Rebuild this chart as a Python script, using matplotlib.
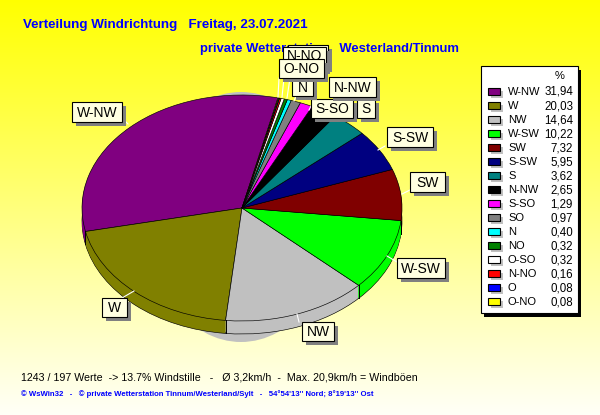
import numpy as np
import matplotlib
matplotlib.use("Agg")
import matplotlib.pyplot as plt
from matplotlib.patches import Rectangle, Ellipse

directions = ["W-NW","W","NW","W-SW","SW","S-SW","S","N-NW","S-SO","SO","N","NO","O-SO","N-NO","O","O-NO"]
percent = [31.94,20.03,14.64,10.22,7.32,5.95,3.62,2.65,1.29,0.97,0.40,0.32,0.32,0.16,0.08,0.08]
percent_text = ["31,94","20,03","14,64","10,22","7,32","5,95","3,62","2,65","1,29","0,97","0,40","0,32","0,32","0,16","0,08","0,08"]
colors = ["#800080","#808000","#C0C0C0","#00FF00","#800000","#000080","#008080","#000000","#FF00FF","#808080","#00FFFF","#008000","#FFFFFF","#FF0000","#0000FF","#FFFF00"]

title1 = "Verteilung Windrichtung   Freitag, 23.07.2021"
title2 = "private Wetterstation   Westerland/Tinnum"
stats = "1243 / 197 Werte  -> 13.7% Windstille   -   Ø 3,2km/h  -  Max. 20,9km/h = Windböen"
footer = "© WsWin32   -   © private Wetterstation Tinnum/Westerland/Sylt   -   54°54'13'' Nord; 8°19'13'' Ost"

plt.rcParams['font.family'] = ['Liberation Sans', 'DejaVu Sans']
W, H = 600, 415
fig = plt.figure(figsize=(W/100, H/100), dpi=100)

# background
bg = fig.add_axes([0,0,1,1]); bg.axis('off')
t = np.linspace(0,1,256)[:,None]
grad = np.dstack([np.ones_like(t), np.ones_like(t), np.clip(t*1.0,0,1)*0.97])
bg.imshow(grad, aspect='auto', extent=[0,1,0,1], origin='upper')
bg.add_patch(Ellipse((241/W, 1-217/H), 190/W, 250/H, color="#C0C0C0", lw=0, transform=bg.transAxes))

# pie
CX, CY, RX, RY = 242, 208, 160, 113
DEPTH = 13
pa = fig.add_axes([(CX-RX)/W, 1-(CY+RY)/H, 2*RX/W, 2*RY/H])
pa.patch.set_alpha(0)
START = 77
d = DEPTH/RY
for off in np.linspace(d, 0, DEPTH+1):
    is_edge = off == d or off == 0
    wedges, _ = pa.pie(percent, colors=colors, startangle=START, counterclock=True, radius=1,
                       center=(0,-off),
                       wedgeprops=dict(edgecolor="black" if is_edge else "none", linewidth=0.45 if is_edge else 0))
    for w in wedges:
        w.set_clip_on(False)
    if off == d:
        ang = np.deg2rad(START + np.cumsum(percent)*3.6)
        for a in ang:
            if np.sin(a) < 0:
                pa.plot([np.cos(a)]*2, [np.sin(a), np.sin(a)-d], color="black", lw=0.7, clip_on=False, zorder=5)
pa.set_aspect('auto'); pa.set_xlim(-1,1); pa.set_ylim(-1,1); pa.axis('off')

# overlay in pixel coordinates
ov = fig.add_axes([0,0,1,1]); ov.set_xlim(0,W); ov.set_ylim(H,0); ov.axis('off')
ov.patch.set_alpha(0)
ov.text(23,25,title1,color="#0000FF",fontsize=9.6,fontweight='bold',va='center')
ov.text(200,49,title2,color="#0000FF",fontsize=9.4,fontweight='bold',va='center')
ov.text(21,377,stats,color="black",fontsize=7.7,va='center')
ov.text(21,394,footer,color="#0000FF",fontsize=5.6,fontweight='bold',va='center')

SH = 4
def box(x0,y0,x1,y1,label,fs=10):
    ov.add_patch(Rectangle((x0+SH,y0+SH),x1-x0,y1-y0,fc="#808080",ec="none",zorder=3))
    ov.add_patch(Rectangle((x0,y0),x1-x0,y1-y0,fc="#FFFFE1",ec="black",lw=0.8,zorder=3))
    if label:
        ov.text((x0+x1)/2,(y0+y1)/2+0.5,label,fontsize=fs,ha='center',va='center',color="black",zorder=3)

leaders = [((122,118),(128,124)),((122,298),(134,291)),((299,322),(297,314)),((279,78),(278,97)),((284,78),(282,97)),
           ((290,78),(287,98)),((296,96),(294,101)),((311,106),(309,110)),((397,262),(387,256)),((385,146),(378,150)),
           ((410,190),(402,194))]
for (a,b) in leaders:
    ov.plot([a[0],b[0]],[a[1],b[1]],color="white",lw=0.8)

label_boxes = [("W-NW",72,102,122,122),("W",102,298,127,317),("NW",302,322,334,341),("W-SW",397,258,445,278),
               ("SW",410,172,445,192),("S-SW",387,127,433,147),("S",357,99,375,118),("S-SO",311,99,353,118),
               ("N-NW",329,77,376,97),("N",292,78,313,96),("",288,45,328,68),("N-NO",283,47,326,70),("O-NO",279,59,324,78)]
for lab,x0,y0,x1,y1 in label_boxes:
    if lab == "N-NO":
        ov.add_patch(Rectangle((x0+SH,y0+SH),x1-x0,y1-y0,fc="#808080",ec="none",zorder=3))
        ov.add_patch(Rectangle((x0,y0),x1-x0,y1-y0,fc="#FFFFE1",ec="black",lw=0.8,zorder=3))
        ov.text((x0+x1)/2,56,lab,fontsize=10,ha='center',va='center',zorder=3)
    else:
        box(x0,y0,x1,y1,lab)

# legend
ov.add_patch(Rectangle((484,70),97,247,fc="black",ec="none"))
ov.add_patch(Rectangle((481,66),97,247,fc="white",ec="black",lw=0.8))
ov.text(560,76,"%",fontsize=8,ha='center',va='center')
for i,(n,c,v) in enumerate(zip(directions,colors,percent_text)):
    y = 92+14*i
    ov.add_patch(Rectangle((491,y-1),12,7,fc="#C0C0C0",ec="none"))
    ov.add_patch(Rectangle((488,y-4),12,7,fc=c,ec="black",lw=0.8))
    ov.text(508,y,n,fontsize=8,va='center')
    ov.text(573,y,v,fontsize=8.3,va='center',ha='right')

fig.savefig("out.png",dpi=100)
